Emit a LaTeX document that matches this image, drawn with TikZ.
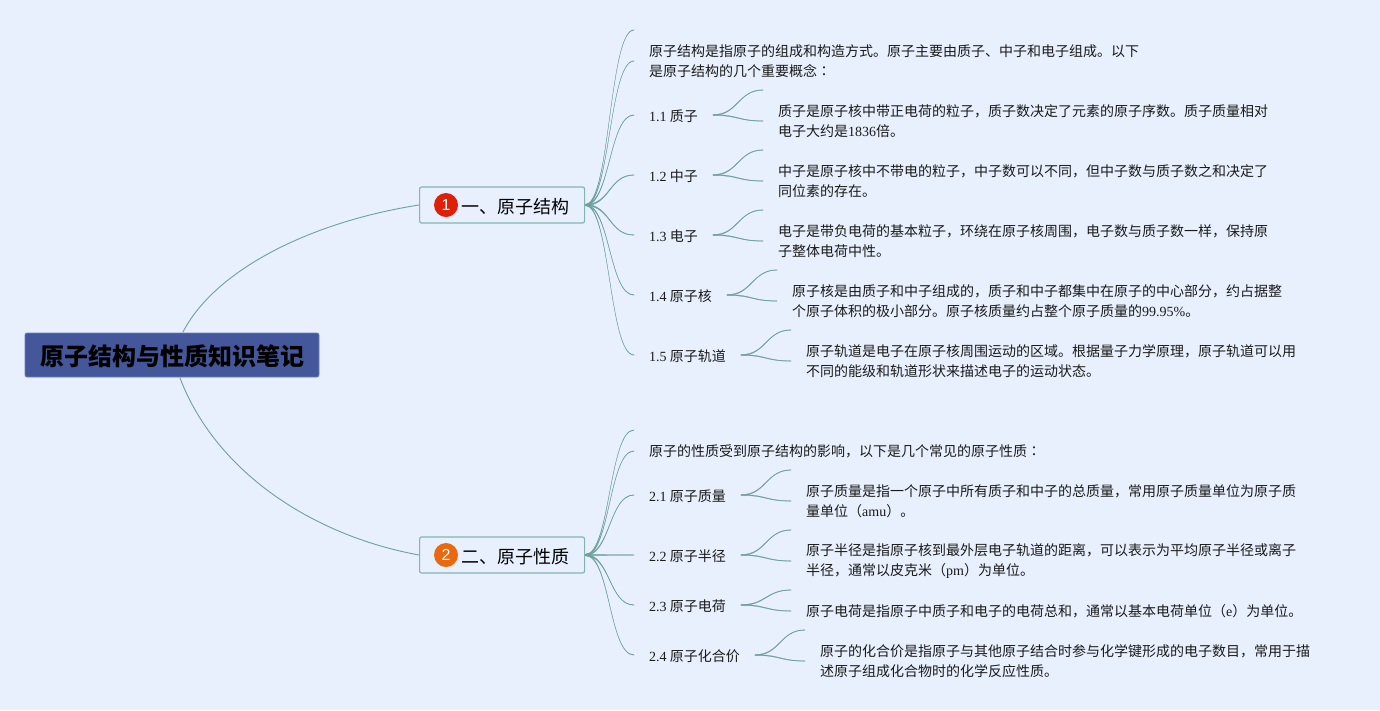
\documentclass[tikz,border=0pt]{standalone}
\usepackage{fontspec}
\setmainfont{Noto Sans CJK SC}
\newfontfamily\latf{Liberation Serif}
\newfontfamily\badgef{Liberation Sans}
\newfontfamily\tcf{Noto Sans CJK TC}
\newcommand\lat[1]{{\latf #1}}
\definecolor{bgc}{HTML}{E8F0FE}
\definecolor{linkc}{HTML}{6FA09E}
\definecolor{rootc}{HTML}{45579B}
\definecolor{rootb}{HTML}{6C7DB8}
\definecolor{secb}{HTML}{85B5B2}
\definecolor{textc}{HTML}{1A1A1A}
\definecolor{badgea}{HTML}{DE2009}
\definecolor{badgeb}{HTML}{E8690F}
\tikzset{
  link/.style={draw=linkc,line width=0.9pt,line cap=round},
  taper/.style={draw=linkc,fill=linkc,line width=0.25pt,line join=round},
  rootbox/.style={draw=rootb,fill=rootc,line width=0.8pt,rounded corners=2pt,minimum width=294pt,minimum height=44pt,inner sep=0pt,font=\fontsize{24}{30}\selectfont\bfseries,text=black},
  secbox/.style={draw=secb,line width=1.2pt,rounded corners=2pt,minimum width=165pt,minimum height=36pt,inner sep=0pt,anchor=west,font=\fontsize{18}{22}\selectfont,text=black},
  badge/.style={circle,minimum size=24pt,inner sep=0pt,text=white,font=\badgef\fontsize{16}{18}\selectfont},
  label/.style={anchor=west,inner xsep=15pt,inner ysep=0pt,font=\fontsize{14}{20}\selectfont,text=textc},
  note/.style={anchor=west,align=left,inner xsep=15pt,inner ysep=0pt,font=\fontsize{14}{20}\selectfont,text=textc},
}
% section connector: optional argument = how far above the end node's west point the line ends
\newcommand\lnk[3][1]{\draw[taper] ([yshift=0.7pt]#2) .. controls +(25,0) and +(-25,0) .. ([yshift=#1pt+0.25pt]#3) -- ([yshift=#1pt-0.25pt]#3) .. controls +(-25,0) and +(25,0) .. ([yshift=-0.7pt]#2) -- cycle;}
% sub connector: label nodes sit 1pt below the line they send
\newcommand\sublnk[3][1]{\draw[taper] ([yshift=1.45pt]#2) .. controls +(25,0) and +(-25,0) .. ([yshift=#1pt+0.25pt]#3) -- ([yshift=#1pt-0.25pt]#3) .. controls +(-25,0) and +(25,0) .. ([yshift=0.55pt]#2) -- cycle;}
\begin{document}
\begin{tikzpicture}[x=1pt,y=-1pt]
\useasboundingbox (0,0) rectangle (1380,710);
\fill[bgc] (0,0) rectangle (1380,710);
% nodes
\node[rootbox] (root) at (172,355) {\raisebox{-1pt}[\height][\depth]{原子结构与性质知识笔记}};
\node[secbox] (s1) at (419,205) {\hspace*{42pt}\raisebox{-1.5pt}[\height][\depth]{一、原子结构}\hspace*{15pt}};
\node[secbox] (s2) at (419,555) {\hspace*{42pt}\raisebox{-1.5pt}[\height][\depth]{二、原子性质}\hspace*{15pt}};
\node[badge,fill=badgea] (b1) at (446,205) {1};
\node[badge,fill=badgeb] (b2) at (446,555) {2};

\coordinate (t0a) at (634,31);
\node[note] (t0) at (634,61) {原子结构是指原子的组成和构造方式。原子主要由质子、中子和电子组成。以下\\是原子结构的几个重要概念{\tcf ：}};
\node[label] (l11) at (634,116) {\lat{1.1} 质子};
\node[label] (l12) at (634,176) {\lat{1.2} 中子};
\node[label] (l13) at (634,236) {\lat{1.3} 电子};
\node[label] (l14) at (634,296) {\lat{1.4} 原子核};
\node[label] (l15) at (634,356) {\lat{1.5} 原子轨道};

\coordinate (a11) at (763,91);
\coordinate (a12) at (763,151);
\coordinate (a13) at (763,211);
\coordinate (a14) at (777,271);
\coordinate (a15) at (791,331);
\node[note] (n11) at (763,121) {质子是原子核中带正电荷的粒子，质子数决定了元素的原子序数。质子质量相对\\电子大约是\lat{1836}倍。};
\node[note] (n12) at (763,181) {中子是原子核中不带电的粒子，中子数可以不同，但中子数与质子数之和决定了\\同位素的存在。};
\node[note] (n13) at (763,241) {电子是带负电荷的基本粒子，环绕在原子核周围，电子数与质子数一样，保持原\\子整体电荷中性。};
\node[note] (n14) at (777,301) {原子核是由质子和中子组成的，质子和中子都集中在原子的中心部分，约占据整\\个原子体积的极小部分。原子核质量约占整个原子质量的\lat{99.95\%}。};
\node[note] (n15) at (791,361) {原子轨道是电子在原子核周围运动的区域。根据量子力学原理，原子轨道可以用\\不同的能级和轨道形状来描述电子的运动状态。};

\coordinate (t1a) at (634,431);
\node[note] (t1) at (634,451) {原子的性质受到原子结构的影响，以下是几个常见的原子性质{\tcf ：}};
\node[label] (l21) at (634,496) {\lat{2.1} 原子质量};
\node[label] (l22) at (634,556) {\lat{2.2} 原子半径};
\node[label] (l23) at (634,606) {\lat{2.3} 原子电荷};
\node[label] (l24) at (634,656) {\lat{2.4} 原子化合价};

\coordinate (a21) at (791,471);
\coordinate (a22) at (791,531);
\coordinate (a23) at (791,591);
\coordinate (a24) at (805,631);
\node[note] (n21) at (791,501) {原子质量是指一个原子中所有质子和中子的总质量，常用原子质量单位为原子质\\量单位（\lat{amu}）。};
\node[note] (n22) at (791,561) {原子半径是指原子核到最外层电子轨道的距离，可以表示为平均原子半径或离子\\半径，通常以皮克米（\lat{pm}）为单位。};
\node[note] (n23) at (791,611) {原子电荷是指原子中质子和电子的电荷总和，通常以基本电荷单位（\lat{e}）为单位。};
\node[note] (n24) at (805,661) {原子的化合价是指原子与其他原子结合时参与化学键形成的电子数目，常用于描\\述原子组成化合物时的化学反应性质。};

% root connectors
\draw[link] (183,332) .. controls (215,270) and (310,222) .. (s1.west);
\draw[link] (180,378) .. controls (215,470) and (310,535) .. (s2.west);

% section connectors
\lnk{s1.east}{t0a}
\lnk[0]{s1.east}{t0.west}
\foreach \e in {l11.west,l12.west,l13.west,l14.west,l15.west}{\lnk{s1.east}{\e}}
\lnk{s2.east}{t1a}
\lnk[0]{s2.east}{t1.west}
\foreach \e in {l21.west,l22.west,l23.west,l24.west}{\lnk{s2.east}{\e}}

% sub connectors
\sublnk{l11.east}{a11} \sublnk[0]{l11.east}{n11.west}
\sublnk{l12.east}{a12} \sublnk[0]{l12.east}{n12.west}
\sublnk{l13.east}{a13} \sublnk[0]{l13.east}{n13.west}
\sublnk{l14.east}{a14} \sublnk[0]{l14.east}{n14.west}
\sublnk{l15.east}{a15} \sublnk[0]{l15.east}{n15.west}
\sublnk{l21.east}{a21} \sublnk[0]{l21.east}{n21.west}
\sublnk{l22.east}{a22} \sublnk[0]{l22.east}{n22.west}
\sublnk{l23.east}{a23} \sublnk[0]{l23.east}{n23.west}
\sublnk{l24.east}{a24} \sublnk[0]{l24.east}{n24.west}
\end{tikzpicture}
\end{document}
